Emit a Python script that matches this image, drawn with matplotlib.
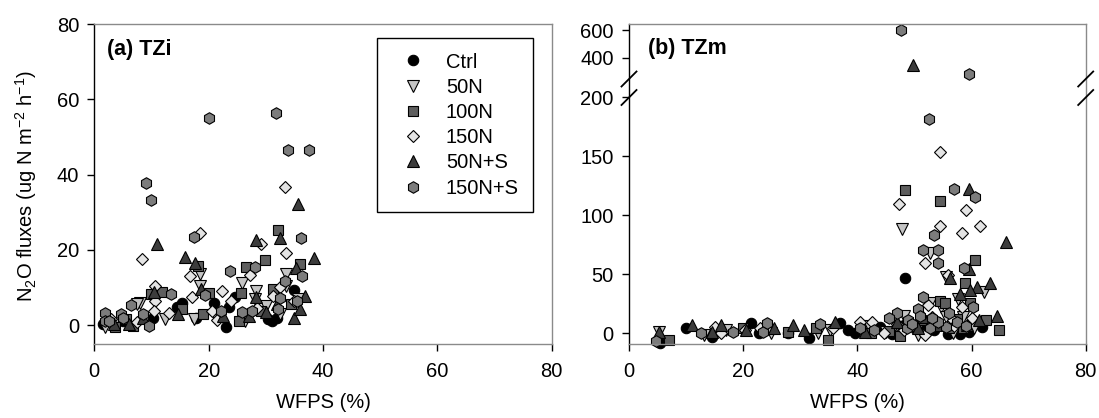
import numpy as np
import matplotlib
matplotlib.use("Agg")
import matplotlib.pyplot as plt
from matplotlib.lines import Line2D

plt.rcParams["font.family"] = ["Liberation Sans", "DejaVu Sans"]
plt.rcParams["font.stretch"] = "normal"
plt.rcParams["mathtext.fontset"] = "custom"
plt.rcParams["mathtext.rm"] = "Liberation Sans"
plt.rcParams["mathtext.it"] = "Liberation Sans:italic"

# ---------------- data: (a) TZi ----------------
tzi_ctrl_x = [35.0, 23.1, 23.6, 15.3, 14.4, 17.8, 10.3, 30.4, 31.0, 24.6, 20.9, 1.5, 5.0, 26.0, 32.0]
tzi_ctrl_y = [9.3, -0.4, 4.7, 5.8, 4.7, 2.0, 2.0, 1.6, 1.2, 7.5, 6.0, 0.3, 1.0, 3.0, 2.0]
tzi_50n_x = [18.4, 18.4, 25.8, 28.1, 28.2, 33.5, 33.6, 1.8, 8.0, 12.3, 17.5, 30.1, 35.6, 21.5, 26.4, 7.5, 32.5]
tzi_50n_y = [13.5, 10.4, 11.3, 6.9, 9.1, 13.5, 10.4, -0.6, 6.0, 1.6, 1.6, 5.1, 6.9, 1.6, 1.1, 5.5, 3.0]
tzi_100n_x = [32.1, 29.8, 26.6, 35.9, 18.2, 9.9, 11.9, 20.1, 25.7, 15.3, 19.0, 3.7, 6.8, 25.3, 31.3, 34.4, 29.2, 5.5]
tzi_100n_y = [25.2, 17.3, 15.5, 16.3, 15.7, 8.2, 8.9, 8.4, 8.4, 4.2, 2.9, -0.6, -0.2, 1.1, 9.5, 5.6, 3.8, 1.5]
tzi_150n_x = [8.3, 18.4, 33.3, 33.6, 29.2, 16.8, 27.3, 22.4, 10.6, 10.6, 17.1, 13.0, 21.5, 31.3, 32.5, 35.0,
              7.4, 10.4, 20.6, 23.9, 3.0, 28.5]
tzi_150n_y = [17.5, 24.4, 36.6, 19.1, 21.6, 13.1, 13.2, 9.1, 10.4, 6.4, 7.5, 3.1, 1.3, 7.8, 10.2, 6.4,
              0.7, 3.8, 3.8, 6.4, 1.5, 4.5]
tzi_50ns_x = [11.0, 15.8, 17.6, 28.2, 32.4, 35.6, 38.5, 35.2, 28.2, 18.6, 10.4, 36.8, 14.7, 3.4, 30.1,
              34.9, 35.9, 27.0, 6.1, 8.6, 22.5, 32.0]
tzi_50ns_y = [21.6, 18.2, 16.6, 22.5, 23.2, 32.1, 17.9, 15.3, 7.5, 9.5, 8.7, 7.8, 2.9, 0.3, 3.4,
              2.0, 4.2, 2.5, 0.3, 2.0, 2.5, 5.5]
tzi_150ns_x = [9.1, 9.9, 20.0, 31.7, 33.9, 37.6, 17.5, 36.1, 23.8, 28.1, 33.3, 36.3, 13.5, 19.3, 6.4,
               1.8, 4.6, 9.6, 8.6, 22.2, 25.8, 27.6, 32.5, 35.5, 1.8, 32.2, 2.5, 5.0]
tzi_150ns_y = [37.8, 33.2, 55.0, 56.3, 46.6, 46.4, 23.5, 23.1, 14.4, 15.5, 11.7, 13.1, 8.2, 7.9, 5.3,
               3.1, 2.9, -0.2, 2.9, 3.8, 3.4, 3.8, 7.3, 6.4, 1.1, 4.2, 1.0, 1.8]

# ---------------- data: (b) TZm ----------------
tzm_ctrl_x = [48.4, 9.9, 14.6, 21.3, 22.8, 31.5, 36.9, 39.6, 38.3, 46.0, 55.8, 57.9, 61.8, 48.1, 51.8,
              5.5, 27.9, 53.5, 59.5, 44.0]
tzm_ctrl_y = [46.5, 4.2, -3.4, 8.5, 0.0, -4.2, 8.5, 0.6, 2.8, -0.6, -0.6, -0.6, 5.1, 7.0, 2.8,
              -8.5, 0.0, 3.0, 1.5, 5.0]
tzm_50n_x = [47.8, 52.7, 55.5, 57.6, 62.2, 52.8, 54.7, 48.1, 5.2, 13.1, 24.8, 33.1, 35.2, 45.0, 50.6,
             56.7, 60.4, 58.5, 55.5, 17.0, 42.0, 53.5, 49.5]
tzm_50n_y = [88.0, 67.7, 47.9, 29.0, 34.7, 25.4, 22.6, 14.7, 1.4, -1.4, 0.0, 0.0, 2.8, 1.4, -1.4,
             0.0, 4.2, 14.1, 14.1, 3.0, 6.0, 9.0, 5.0]
tzm_100n_x = [48.3, 54.5, 60.6, 58.8, 54.4, 55.3, 59.8, 62.6, 64.8, 7.0, 34.9, 47.5, 42.4, 19.9, 27.9,
              32.8, 51.2, 56.1, 58.5, 53.0, 49.5, 45.5, 57.5]
tzm_100n_y = [121.2, 112.2, 62.0, 42.9, 27.6, 25.4, 25.4, 11.3, 2.8, -5.6, -5.6, -2.3, 0.0, 4.2, 1.4,
              4.2, 11.3, 4.2, 4.2, 8.0, 6.0, 2.0, 12.0]
tzm_150n_x = [54.5, 47.3, 59.0, 61.5, 54.4, 58.4, 51.8, 55.8, 52.4, 58.4, 40.4, 42.6, 20.4, 15.0, 22.9,
              60.0, 56.7, 48.1, 44.7, 16.2, 51.8, 35.7, 47.0, 53.0, 57.0]
tzm_150n_y = [153.6, 109.4, 104.9, 91.1, 91.1, 85.1, 59.2, 49.3, 24.0, 22.6, 9.9, 9.9, 2.8, 5.6, 4.2,
              12.7, 11.3, 2.8, 0.0, 0.0, -1.4, 4.2, 8.0, 14.0, 6.0]
tzm_50ns_x = [49.8, 59.5, 66.0, 59.6, 56.2, 63.3, 61.0, 59.8, 58.0, 64.5, 11.0, 5.3, 14.5, 16.2, 28.8,
              30.6, 36.0, 25.4, 41.3, 51.5, 54.2, 61.3, 50.6, 59.2, 47.0, 53.0, 20.5]
tzm_50ns_y = [345.0, 122.6, 77.5, 54.1, 46.5, 42.9, 38.9, 36.6, 33.3, 14.9, 7.0, 1.4, 1.4, 7.0, 7.0,
              2.8, 9.9, 4.2, 1.4, 14.1, 7.0, 11.3, 4.2, 7.0, 10.0, 12.0, 3.0]
tzm_150ns_x = [47.7, 59.6, 52.5, 56.9, 60.6, 53.4, 51.5, 54.1, 54.2, 58.6, 51.5, 60.2, 56.0, 46.9, 50.6,
               45.6, 4.8, 12.6, 18.2, 23.4, 24.2, 33.4, 40.4, 48.7, 52.7, 55.5, 54.2, 48.9, 49.5,
               57.5, 43.0, 51.0, 53.0, 59.0]
tzm_150ns_y = [605.0, 284.0, 181.3, 122.6, 115.6, 83.7, 71.0, 71.0, 59.8, 55.5, 31.0, 22.6, 17.0, 17.0, 21.0,
               12.7, -6.2, 0.0, 1.4, 1.4, 8.5, 7.9, 4.2, 4.2, 4.2, 5.6, 9.9, 11.3, 8.0,
               10.0, 3.0, 15.0, 13.0, 6.0]

labels = ["Ctrl", "50N", "100N", "150N", "50N+S", "150N+S"]
markers = ["o", "v", "s", "D", "^", "h"]
colors = ["#000000", "#c4c4c4", "#5e5e5e", "#e4e4e4", "#3c3c3c", "#7c7c7c"]
sizes = [7.5, 8.0, 7.0, 6.0, 8.0, 8.3]

tzi = [(tzi_ctrl_x, tzi_ctrl_y), (tzi_50n_x, tzi_50n_y), (tzi_100n_x, tzi_100n_y),
       (tzi_150n_x, tzi_150n_y), (tzi_50ns_x, tzi_50ns_y), (tzi_150ns_x, tzi_150ns_y)]
tzm = [(tzm_ctrl_x, tzm_ctrl_y), (tzm_50n_x, tzm_50n_y), (tzm_100n_x, tzm_100n_y),
       (tzm_150n_x, tzm_150n_y), (tzm_50ns_x, tzm_50ns_y), (tzm_150ns_x, tzm_150ns_y)]

W, H = 1099, 418
fig = plt.figure(figsize=(W / 100, H / 100), dpi=100)

def px_axes(x0, x1, y0, y1):
    return fig.add_axes([x0 / W, 1 - y1 / H, (x1 - x0) / W, (y1 - y0) / H])

axa = px_axes(94.3, 551.7, 24, 344.3)
axb = px_axes(629, 1085.7, 24, 344.3)

FS = 14.5
FS_TAG = 15.5
GRAY = "#8a8a8a"

def style(ax):
    for s in ["top", "right", "bottom"]:
        ax.spines[s].set_color(GRAY)
        ax.spines[s].set_linewidth(1.0)
    ax.spines["left"].set_color("black")
    ax.spines["left"].set_linewidth(1.0)
    ax.tick_params(axis="y", direction="out", length=5, width=1, color="black",
                   labelsize=FS, pad=6)
    ax.tick_params(axis="x", direction="out", length=5, width=1, color="black",
                   labelsize=FS, pad=8)
    ax.set_xlim(0, 80)
    ax.set_xticks([0, 20, 40, 60, 80])

def draw(ax, series):
    for (xs, ys), m, c, ms, lab in zip(series, markers, colors, sizes, labels):
        ax.plot(xs, ys, linestyle="none", marker=m, markersize=ms, markerfacecolor=c,
                markeredgecolor="black", markeredgewidth=0.8, label=lab, clip_on=False)

tag_font = dict(family="Liberation Sans", weight="bold", stretch="normal", size=FS_TAG)

# ---- panel (a)
style(axa)
draw(axa, tzi)
axa.set_ylim(-5.1, 80)
axa.set_yticks([0, 20, 40, 60, 80])
axa.text(0.028, 0.919, "(a) TZi", transform=axa.transAxes, fontdict=tag_font,
         ha="left", va="center")
handles = [Line2D([], [], linestyle="none", marker=m, markersize=ms, markerfacecolor=c,
                  markeredgecolor="black", markeredgewidth=0.8)
           for m, c, ms in zip(markers, colors, sizes)]
leg = axa.legend(handles, labels, loc="upper left",
                 bbox_to_anchor=((376.5 - 94.3) / 457.4, (344.3 - 38) / 320.3),
                 frameon=True, fancybox=False, framealpha=1, edgecolor="black",
                 fontsize=FS, handletextpad=0.53, labelspacing=0.31, borderpad=0.72,
                 handlelength=2.19, borderaxespad=0)
leg.get_frame().set_linewidth(1.0)
fig.text(26 / W, 1 - 186 / H, r"N$_2$O fluxes (ug N m$^{-2}$ h$^{-1}$)", rotation=90,
         ha="center", va="center", fontsize=FS)
fig.text((94.3 + 551.7) / 2 / W, 1 - 402 / H, "WFPS (%)", ha="center", va="center", fontsize=FS)

# ---- panel (b): broken y axis via a piecewise-linear scale
BRK_X = [-1000.0, 200.0, 250.0, 10000.0]
BRK_P = [-1180.0, 236.0, 254.7, 254.7 + 9750 * 0.138]

def fwd(y):
    return np.interp(y, BRK_X, BRK_P)

def inv(p):
    return np.interp(p, BRK_P, BRK_X)

style(axb)
axb.set_yscale("function", functions=(fwd, inv))
draw(axb, tzm)
axb.set_ylim(-9.3, 645.6)
axb.set_yticks([0, 50, 100, 150, 200, 400, 600])
axb.yaxis.set_major_formatter(matplotlib.ticker.FuncFormatter(lambda v, p: f"{v:.0f}"))
axb.yaxis.set_minor_locator(matplotlib.ticker.NullLocator())
axb.text(0.0416, 0.925, "(b) TZm", transform=axb.transAxes, fontdict=tag_font,
         ha="left", va="center")
fig.text((629 + 1085.7) / 2 / W, 1 - 402 / H, "WFPS (%)", ha="center", va="center", fontsize=FS)

# break marks on both vertical spines
h_ax = 320.3
w_ax = 456.7
for xc in (0.0, 1.0):
    for py in (79.0, 97.5):
        yc = (344.3 - py) / h_ax
        dx, dy = 7.5 / w_ax, 7.5 / h_ax
        axb.plot([xc - dx, xc + dx], [yc - dy, yc + dy], transform=axb.transAxes,
                 color="black", lw=1.3, clip_on=False, zorder=5)

fig.savefig("out.png", dpi=100)
